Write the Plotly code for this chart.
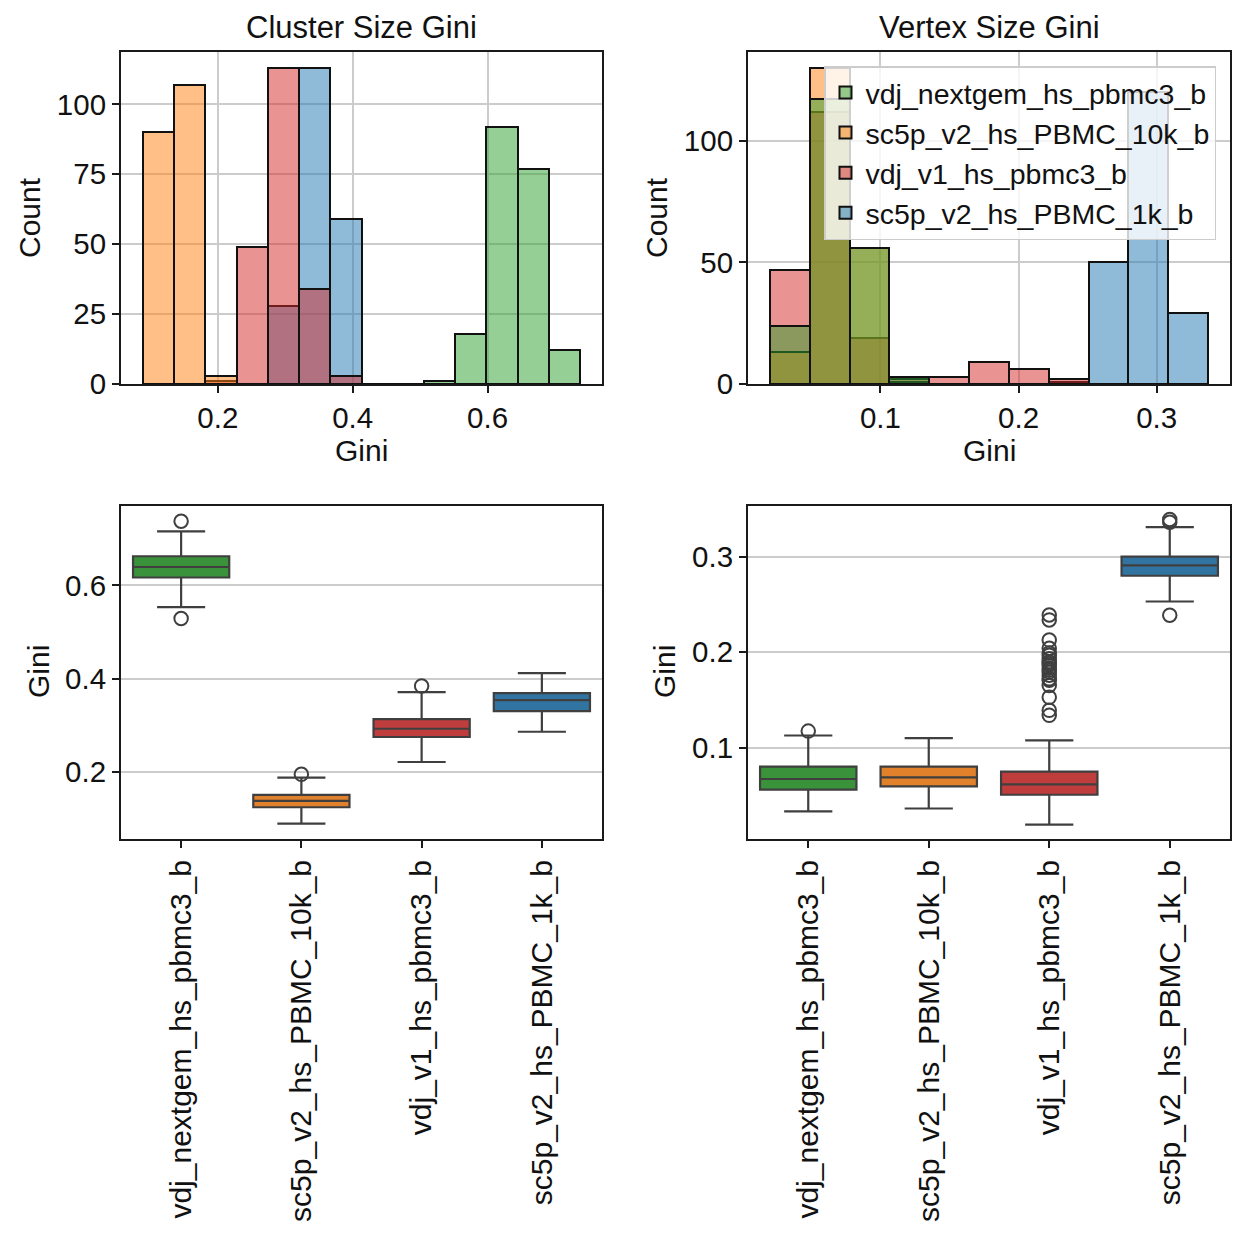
import plotly.graph_objects as go

# ---------------- data ----------------
samples = ["vdj_nextgem_hs_pbmc3_b", "sc5p_v2_hs_PBMC_10k_b",
           "vdj_v1_hs_pbmc3_b", "sc5p_v2_hs_PBMC_1k_b"]
base_colors = {"vdj_nextgem_hs_pbmc3_b": (44, 160, 44),
               "sc5p_v2_hs_PBMC_10k_b": (255, 127, 14),
               "vdj_v1_hs_pbmc3_b": (214, 39, 40),
               "sc5p_v2_hs_PBMC_1k_b": (31, 119, 180)}
box_colors = {"vdj_nextgem_hs_pbmc3_b": "#3a923a",
              "sc5p_v2_hs_PBMC_10k_b": "#e1812c",
              "vdj_v1_hs_pbmc3_b": "#c03d3e",
              "sc5p_v2_hs_PBMC_1k_b": "#3274a1"}

# Cluster size Gini histogram (14 common bins)
cluster_bin_start = 0.0889
cluster_bin_width = 0.04631
cluster_counts = {
    "vdj_nextgem_hs_pbmc3_b": [0, 0, 0, 0, 0, 0, 0, 0, 0, 1, 18, 92, 77, 12],
    "sc5p_v2_hs_PBMC_10k_b": [90, 107, 3, 0, 0, 0, 0, 0, 0, 0, 0, 0, 0, 0],
    "vdj_v1_hs_pbmc3_b":     [0, 0, 1, 49, 113, 34, 3, 0, 0, 0, 0, 0, 0, 0],
    "sc5p_v2_hs_PBMC_1k_b":  [0, 0, 0, 0, 28, 113, 59, 0, 0, 0, 0, 0, 0, 0],
}

# Vertex size Gini histogram (11 common bins)
vertex_bin_start = 0.0200
vertex_bin_width = 0.02884
vertex_counts = {
    "vdj_nextgem_hs_pbmc3_b": [24, 117, 56, 3, 0, 0, 0, 0, 0, 0, 0],
    "sc5p_v2_hs_PBMC_10k_b": [13, 130, 56, 1, 0, 0, 0, 0, 0, 0, 0],
    "vdj_v1_hs_pbmc3_b":     [47, 112, 19, 2, 3, 9, 6, 2, 0, 0, 0],
    "sc5p_v2_hs_PBMC_1k_b":  [0, 0, 0, 0, 0, 0, 0, 1, 50, 120, 29],
}

# Box statistics: lower whisker, q1, median, q3, upper whisker
cluster_box = {
    "vdj_nextgem_hs_pbmc3_b": [0.553, 0.6165, 0.639, 0.662, 0.7155],
    "sc5p_v2_hs_PBMC_10k_b": [0.0894, 0.1245, 0.138, 0.1508, 0.1878],
    "vdj_v1_hs_pbmc3_b":     [0.2214, 0.2749, 0.2926, 0.3134, 0.3711],
    "sc5p_v2_hs_PBMC_1k_b":  [0.2862, 0.3305, 0.354, 0.369, 0.4118],
}
cluster_outliers = {
    "vdj_nextgem_hs_pbmc3_b": [0.737, 0.5288],
    "sc5p_v2_hs_PBMC_10k_b": [0.195],
    "vdj_v1_hs_pbmc3_b":     [0.384],
    "sc5p_v2_hs_PBMC_1k_b":  [],
}
vertex_box = {
    "vdj_nextgem_hs_pbmc3_b": [0.033, 0.0558, 0.067, 0.080, 0.1126],
    "sc5p_v2_hs_PBMC_10k_b": [0.0361, 0.0593, 0.0688, 0.080, 0.1098],
    "vdj_v1_hs_pbmc3_b":     [0.0193, 0.0505, 0.0614, 0.0747, 0.1074],
    "sc5p_v2_hs_PBMC_1k_b":  [0.253, 0.280, 0.2909, 0.300, 0.3309],
}
vertex_outliers = {
    "vdj_nextgem_hs_pbmc3_b": [0.1172],
    "sc5p_v2_hs_PBMC_10k_b": [],
    "vdj_v1_hs_pbmc3_b": [0.2389, 0.2337, 0.2126, 0.2040, 0.1990, 0.1968, 0.1930,
                          0.1900, 0.1880, 0.1863, 0.1830, 0.1810, 0.1790, 0.1758,
                          0.1720, 0.1705, 0.1650, 0.1526, 0.1390, 0.1337],
    "sc5p_v2_hs_PBMC_1k_b": [0.339, 0.3361, 0.2386],
}

titles = ["Cluster Size Gini", "Vertex Size Gini"]

# ---------------- figure ----------------
FONT = "Arial, Liberation Sans, Helvetica, sans-serif"
W = H = 1245
fig = go.Figure()

def rgba(c, a):
    return "rgba(%d,%d,%d,%s)" % (c[0], c[1], c[2], a)

def add_hist(counts, start, width, xa, ya, legend):
    # draw order: last sample at the bottom, first on top (seaborn layering)
    for s in reversed(samples):
        vals = counts[s]
        centers = [start + width * (i + 0.5) for i in range(len(vals))]
        fig.add_trace(go.Bar(
            x=centers, y=vals, width=[width] * len(vals), name=s,
            marker=dict(color=rgba(base_colors[s], 0.5),
                        line=dict(color="#111111", width=2)),
            xaxis=xa, yaxis=ya, showlegend=legend, hoverinfo="x+y+name"))

def add_box(stats, outl, xa, ya):
    for s in samples:
        lo, q1, med, q3, hi = stats[s]
        fig.add_trace(go.Box(
            x=[s], q1=[q1], median=[med], q3=[q3], lowerfence=[lo], upperfence=[hi],
            width=0.8,
            fillcolor=box_colors[s], line=dict(color="#3f3f3f", width=2.2),
            whiskerwidth=0.5, boxpoints=False, showlegend=False,
            xaxis=xa, yaxis=ya, name=s))
        if outl[s]:
            fig.add_trace(go.Scatter(
                x=[s] * len(outl[s]), y=outl[s], mode="markers",
                marker=dict(symbol="circle-open", size=13.5, color="#3f3f3f",
                            line=dict(width=2, color="#3f3f3f")),
                showlegend=False, xaxis=xa, yaxis=ya, hoverinfo="y"))

add_hist(cluster_counts, cluster_bin_start, cluster_bin_width, "x", "y", False)
add_hist(vertex_counts, vertex_bin_start, vertex_bin_width, "x2", "y2", True)
add_box(cluster_box, cluster_outliers, "x3", "y3")
add_box(vertex_box, vertex_outliers, "x4", "y4")

def data_range(start, width, n):
    lo, hi = start, start + width * n
    pad = (hi - lo) * 0.05
    return [lo - pad, hi + pad]

def count_max(counts):
    return max(max(v) for v in counts.values()) * 1.05

n_c = len(cluster_counts[samples[0]])
n_v = len(vertex_counts[samples[0]])
rng_c = data_range(cluster_bin_start, cluster_bin_width, n_c)
rng_v = data_range(vertex_bin_start, vertex_bin_width, n_v)

def px_x(p):
    return p / W

def px_y(p):
    return 1 - p / H

dom_x_left = [px_x(121), px_x(602)]
dom_x_right = [px_x(748), px_x(1230)]
dom_y_top = [px_y(384), px_y(52)]
dom_y_bot = [px_y(839), px_y(506)]

axis_common = dict(showline=True, mirror=True, linecolor="#1a1a1a", linewidth=2,
                   ticks="outside", ticklen=7, tickwidth=2, tickcolor="#1a1a1a",
                   gridcolor="#cccccc", gridwidth=1.6, zeroline=False,
                   automargin=False, fixedrange=True)
num_tick_font = dict(family=FONT, size=29.5, color="#111111")
cat_tick_font = dict(family=FONT, size=30, color="#111111")

fig.update_layout(
    width=W, height=H, margin=dict(l=0, r=0, t=0, b=0),
    paper_bgcolor="white", plot_bgcolor="white",
    barmode="overlay", bargap=0, boxmode="overlay",
    font=dict(family=FONT, color="#111111"),
    xaxis=dict(domain=dom_x_left, anchor="y", range=rng_c, tickmode="array",
               tickvals=[0.2, 0.4, 0.6], ticktext=["0.2", "0.4", "0.6"],
               showgrid=True, tickfont=num_tick_font, **axis_common),
    yaxis=dict(domain=dom_y_top, anchor="x", range=[0, count_max(cluster_counts)],
               tickmode="array", tickvals=[0, 25, 50, 75, 100], showgrid=True,
               tickfont=num_tick_font, **axis_common),
    xaxis2=dict(domain=dom_x_right, anchor="y2", range=rng_v, tickmode="array",
                tickvals=[0.1, 0.2, 0.3], ticktext=["0.1", "0.2", "0.3"],
                showgrid=True, tickfont=num_tick_font, **axis_common),
    yaxis2=dict(domain=dom_y_top, anchor="x2", range=[0, count_max(vertex_counts)],
                tickmode="array", tickvals=[0, 50, 100], showgrid=True,
                tickfont=num_tick_font, **axis_common),
    xaxis3=dict(domain=dom_x_left, anchor="y3", type="category",
                categoryorder="array", categoryarray=samples, range=[-0.5, 3.5],
                tickangle=-90, showgrid=False, tickfont=cat_tick_font, **axis_common),
    yaxis3=dict(domain=dom_y_bot, anchor="x3", range=rng_c, tickmode="array",
                tickvals=[0.2, 0.4, 0.6], ticktext=["0.2", "0.4", "0.6"],
                showgrid=True, tickfont=num_tick_font, **axis_common),
    xaxis4=dict(domain=dom_x_right, anchor="y4", type="category",
                categoryorder="array", categoryarray=samples, range=[-0.5, 3.5],
                tickangle=-90, showgrid=False, tickfont=cat_tick_font, **axis_common),
    yaxis4=dict(domain=dom_y_bot, anchor="x4", range=rng_v, tickmode="array",
                tickvals=[0.1, 0.2, 0.3], ticktext=["0.1", "0.2", "0.3"],
                showgrid=True, tickfont=num_tick_font, **axis_common),
    legend=dict(x=px_x(1216), xanchor="right", y=px_y(66), yanchor="top",
                bgcolor="rgba(255,255,255,0.8)", bordercolor="#cccccc", borderwidth=1.5,
                font=dict(family=FONT, size=28.5, color="#111111"),
                traceorder="reversed", itemsizing="constant", tracegroupgap=0),
)

ann = []
def label(text, x, y, size=30, angle=0):
    ann.append(dict(text=text, x=px_x(x), y=px_y(y), xref="paper", yref="paper",
                    showarrow=False, xanchor="center", yanchor="middle",
                    textangle=angle, font=dict(family=FONT, size=size, color="#111111")))

label(titles[0], 361.5, 28, size=31)
label(titles[1], 989, 28, size=31)
label("Gini", 361.5, 450)
label("Gini", 989, 450)
label("Count", 29, 218, angle=-90)
label("Count", 656, 218, angle=-90)
label("Gini", 38, 672, angle=-90)
label("Gini", 664, 672, angle=-90)
fig.update_layout(annotations=ann)

fig.write_html("out.html")
